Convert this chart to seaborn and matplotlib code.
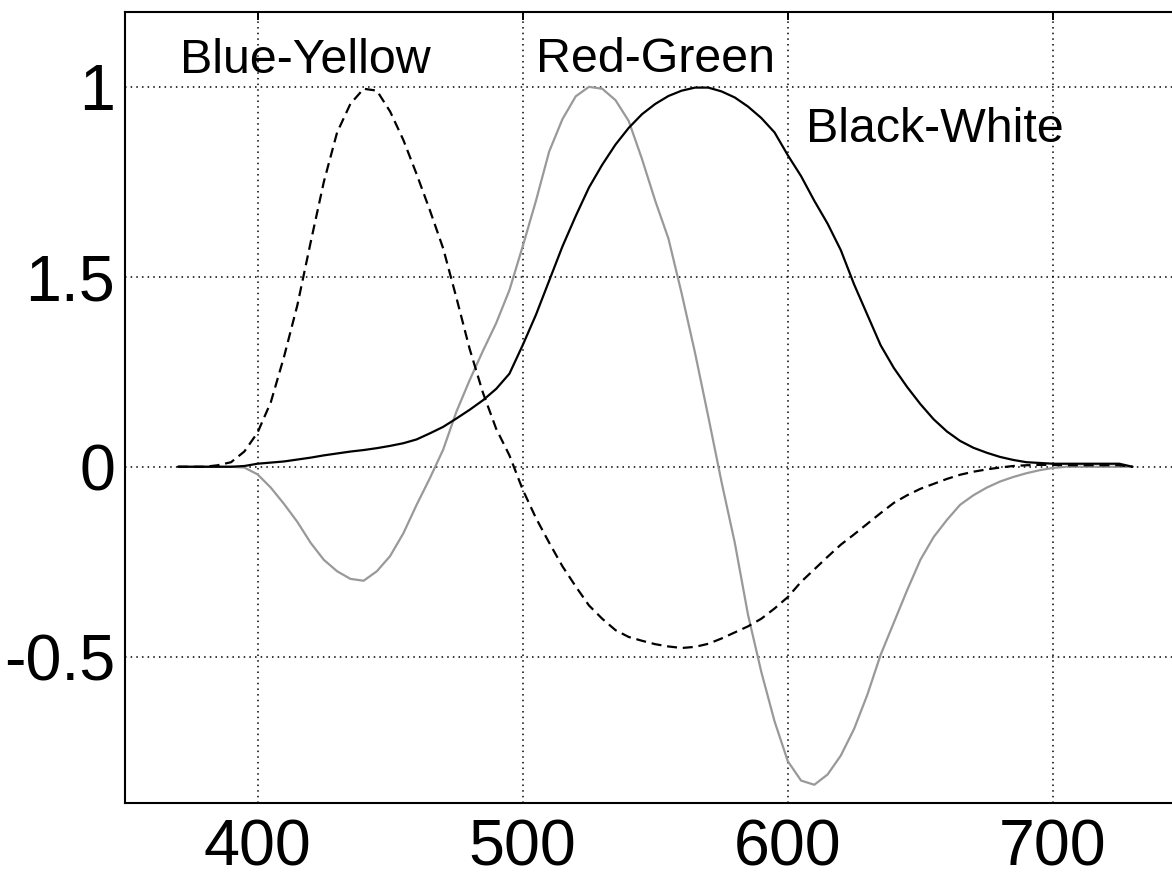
import numpy as np
import pandas as pd
import matplotlib
matplotlib.use("Agg")
import matplotlib.pyplot as plt
import seaborn as sns

# Wavelength grid (nm)
wavelength = list(range(370, 735, 5))

# Opponent-channel spectral sensitivities, normalised to peak 1
black_white = [
    0, 0, 0, 0, 0, 0.002, 0.008, 0.011, 0.014, 0.019,
    0.024, 0.03, 0.035, 0.04, 0.044, 0.049, 0.055, 0.062, 0.072, 0.088,
    0.105, 0.127, 0.15, 0.175, 0.205, 0.245, 0.32, 0.40, 0.49, 0.58,
    0.66, 0.735, 0.795, 0.848, 0.892, 0.928, 0.955, 0.976, 0.99, 0.998,
    0.998, 0.988, 0.972, 0.948, 0.918, 0.88, 0.82, 0.765, 0.70, 0.64,
    0.57, 0.48, 0.40, 0.32, 0.26, 0.21, 0.165, 0.125, 0.093, 0.068,
    0.05, 0.037, 0.026, 0.018, 0.012, 0.01, 0.008, 0.008, 0.008, 0.008,
    0.008, 0.008, 0.0,
]

red_green = [
    0, 0, 0, 0, 0, -0.002, -0.02, -0.055, -0.098, -0.145,
    -0.2, -0.245, -0.275, -0.295, -0.3, -0.275, -0.235, -0.175, -0.1, -0.03,
    0.045, 0.145, 0.228, 0.305, 0.378, 0.465, 0.58, 0.7, 0.83, 0.915,
    0.975, 1.0, 0.995, 0.965, 0.91, 0.81, 0.7, 0.6, 0.455, 0.3,
    0.132, -0.04, -0.2, -0.39, -0.54, -0.67, -0.775, -0.826, -0.837, -0.81,
    -0.76, -0.69, -0.6, -0.495, -0.41, -0.325, -0.245, -0.185, -0.14, -0.1,
    -0.075, -0.055, -0.039, -0.027, -0.017, -0.009, -0.003, 0, 0, 0,
    0, 0, 0,
]

blue_yellow = [
    0, 0, 0, 0.004, 0.012, 0.04, 0.09, 0.17, 0.29, 0.425,
    0.59, 0.75, 0.88, 0.955, 0.995, 0.99, 0.935, 0.86, 0.77, 0.675,
    0.575, 0.445, 0.31, 0.195, 0.1, 0.03, -0.06, -0.135, -0.2, -0.262,
    -0.315, -0.365, -0.4, -0.43, -0.448, -0.458, -0.467, -0.473, -0.477, -0.474,
    -0.466, -0.452, -0.436, -0.42, -0.4, -0.373, -0.343, -0.303, -0.27, -0.237,
    -0.205, -0.178, -0.15, -0.122, -0.095, -0.075, -0.058, -0.045, -0.032, -0.021,
    -0.013, -0.007, -0.002, 0.002, 0.004, 0.005, 0.005, 0.004, 0.004, 0.004,
    0.004, 0.004, 0.0,
]

x_ticks = [400, 500, 600, 700]
x_tick_labels = ["400", "500", "600", "700"]
y_ticks = [-0.5, 0, 0.5, 1]
y_tick_labels = ["-0.5", "0", "1.5", "1"]

channel_labels = ["Blue-Yellow", "Red-Green", "Black-White"]
label_x = [370.9, 504.9, 606.8]
label_y = [1.037, 1.039, 0.855]

df = pd.DataFrame({
    "wavelength": wavelength,
    "bw": black_white,
    "rg": red_green,
    "by": blue_yellow,
})

sns.set_style("white")
plt.rcParams["font.family"] = ["Liberation Sans", "DejaVu Sans"]

fig = plt.figure(figsize=(11.72, 8.77), dpi=100)
ax = fig.add_axes([125 / 1172, 74 / 877, 1060.5 / 1172, 791 / 877])

sns.lineplot(data=df, x="wavelength", y="rg", ax=ax, color="#999999",
             linewidth=1.6, zorder=3)
sns.lineplot(data=df, x="wavelength", y="bw", ax=ax, color="black",
             linewidth=1.6, zorder=4)
sns.lineplot(data=df, x="wavelength", y="by", ax=ax, color="black",
             linewidth=1.6, zorder=4)
ax.lines[-1].set_linestyle((0, (4.5, 2.6)))

ax.set_xlim(350, 750)
ax.set_ylim(-0.885, 1.197)

ax.set_xticks(x_ticks)
ax.set_xticklabels(x_tick_labels)
ax.set_yticks(y_ticks)
ax.set_yticklabels(y_tick_labels)
ax.set_xlabel("")
ax.set_ylabel("")

ax.grid(True, color="black", linewidth=1.1, linestyle=(0, (1, 2.7)), zorder=1)
ax.set_axisbelow(True)

ax.tick_params(axis="both", which="major", direction="in", length=6,
               width=1.4, labelsize=46.5, colors="black",
               top=True, right=True)
ax.tick_params(axis="x", pad=11)
ax.tick_params(axis="y", pad=7)

for spine in ax.spines.values():
    spine.set_visible(True)
    spine.set_color("black")
    spine.set_linewidth(1.5)

for text, tx, ty in zip(channel_labels, label_x, label_y):
    ax.text(tx, ty, text, fontsize=34.8, ha="left", va="baseline",
            color="black", zorder=5)

fig.savefig("out.png", dpi=100, facecolor="white")
